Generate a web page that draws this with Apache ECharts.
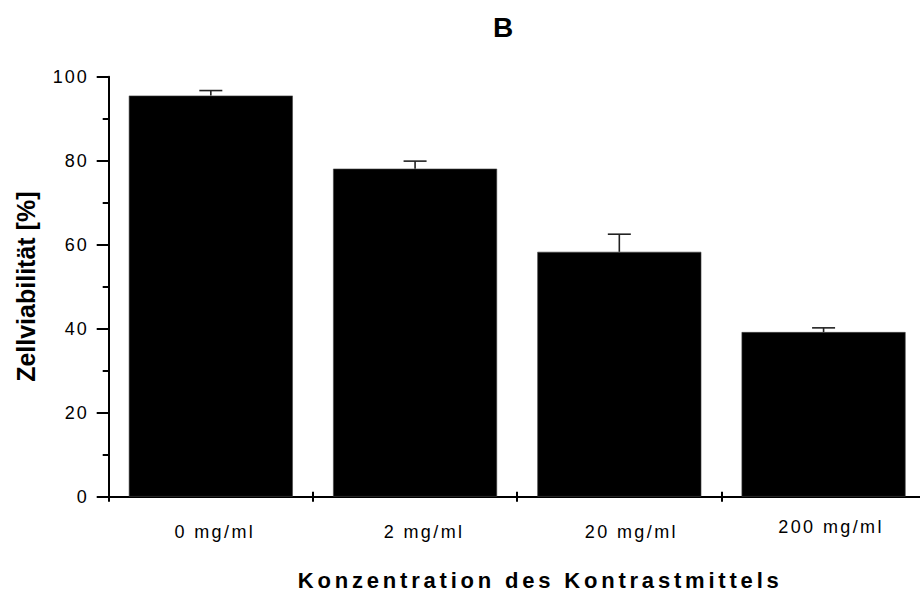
<!DOCTYPE html>
<html>
<head>
<meta charset="utf-8">
<title>Zellviabilität</title>
<script src="https://cdn.jsdelivr.net/npm/echarts@6/dist/echarts.min.js"></script>
<style>
  html, body { margin: 0; padding: 0; background: #fff; }
  #chart { width: 920px; height: 595px; }
</style>
</head>
<body>
<div id="chart"></div>
<script>
// Concentrations of the contrast agent (categories)
const categories = ['0 mg/ml', '2 mg/ml', '20 mg/ml', '200 mg/ml'];
// Mean cell viability in percent
const viability = [95.5, 78.1, 58.3, 39.2];
// Upper error (standard deviation) in percent
const errorSD = [1.2, 1.8, 4.2, 1.0];
// Value axis tick labels
const yTicks = [0, 20, 40, 60, 80, 100];

const titleText = 'B';
const yName = 'Zellviabilität [%]';
const xName = 'Konzentration des Kontrastmittels';

const FONT = '"Liberation Sans", Arial, Helvetica, sans-serif';
const INK = '#000';

// small horizontal nudges for the category labels
const labelNudge = [8, 18, 24, 15];
const labelLineHeight = [28, 28, 28, 18];

const gridBox = { left: 108.7, top: 76.7, bottom: 98.3, right: -5.7, outerBoundsMode: 'none' };

const chart = echarts.init(document.getElementById('chart'), null, { renderer: 'svg' });

const option = {
  animation: false,
  backgroundColor: '#fff',
  title: {
    text: titleText,
    left: 498,
    top: 8,
    textAlign: 'center',
    textStyle: { fontFamily: FONT, fontSize: 28, fontWeight: 'bold', color: INK }
  },
  grid: [
    Object.assign({}, gridBox),
    Object.assign({}, gridBox)
  ],
  xAxis: [
    {
      type: 'category',
      gridIndex: 0,
      data: categories.map((c, i) => ({
        value: c,
        textStyle: { padding: [0, 0, 0, labelNudge[i]], lineHeight: labelLineHeight[i] }
      })),
      axisLine: { show: true, lineStyle: { color: INK, width: 2 } },
      axisTick: { show: true, inside: false, length: 5, lineStyle: { color: INK, width: 2 } },
      axisLabel: { fontFamily: FONT, fontSize: 18, color: INK, margin: 21 },
      splitLine: { show: false },
      name: xName,
      nameLocation: 'middle',
      nameGap: 73,
      nameTextStyle: { fontFamily: FONT, fontSize: 22, fontWeight: 'bold', color: INK, padding: [0, 0, 0, 46] }
    },
    {
      // upward half of the boundary ticks
      type: 'category',
      gridIndex: 1,
      data: categories,
      axisLine: { show: false },
      axisTick: { show: true, inside: true, length: 5, lineStyle: { color: INK, width: 2 } },
      axisLabel: { show: false },
      splitLine: { show: false }
    }
  ],
  yAxis: [
    {
      type: 'value',
      gridIndex: 0,
      min: yTicks[0],
      max: yTicks[yTicks.length - 1],
      interval: yTicks[1] - yTicks[0],
      axisLine: { show: true, lineStyle: { color: INK, width: 2 } },
      axisTick: { show: true, length: 12, lineStyle: { color: INK, width: 2 } },
      minorTick: { show: true, splitNumber: 2, length: 6, lineStyle: { color: INK, width: 2 } },
      splitLine: { show: false },
      minorSplitLine: { show: false },
      axisLabel: { fontFamily: FONT, fontSize: 18, color: INK, margin: 20, padding: [3, 0, 0, 0] },
      name: yName,
      nameLocation: 'middle',
      nameGap: 70,
      nameTextStyle: { fontFamily: FONT, fontSize: 25, fontWeight: 'bold', color: INK }
    },
    {
      type: 'value',
      gridIndex: 1,
      min: yTicks[0],
      max: yTicks[yTicks.length - 1],
      show: false
    }
  ],
  series: [
    {
      type: 'bar',
      xAxisIndex: 0,
      yAxisIndex: 0,
      data: viability,
      barWidth: 164,
      itemStyle: { color: INK, borderColor: '#444', borderWidth: 0.6 },
      z: 2
    },
    {
      type: 'custom',
      xAxisIndex: 0,
      yAxisIndex: 0,
      data: categories.map((c, i) => [i, viability[i], errorSD[i]]),
      z: 3,
      renderItem: function (params, api) {
        const idx = api.value(0);
        const mean = api.value(1);
        const sd = api.value(2);
        const base = api.coord([idx, mean]);
        const top = api.coord([idx, mean + sd]);
        const half = 11.5;
        const st = { stroke: '#222', lineWidth: 1.6 };
        return {
          type: 'group',
          children: [
            { type: 'line', shape: { x1: base[0], y1: base[1], x2: top[0], y2: top[1] }, style: st },
            { type: 'line', shape: { x1: top[0] - half, y1: top[1], x2: top[0] + half, y2: top[1] }, style: st }
          ]
        };
      }
    }
  ]
};

chart.setOption(option);

// widen the tracking of the axis texts
function applyTracking() {
  const tickSet = new Set(yTicks.map(String));
  document.querySelectorAll('#chart svg text').forEach(function (t) {
    const s = t.textContent;
    if (categories.indexOf(s) >= 0) {
      t.setAttribute('letter-spacing', '2.4');
    } else if (tickSet.has(s)) {
      t.setAttribute('letter-spacing', '2');
    } else if (s === xName) {
      t.setAttribute('letter-spacing', '3.8');
    }
  });
}
chart.on('finished', applyTracking);
applyTracking();
</script>
</body>
</html>
